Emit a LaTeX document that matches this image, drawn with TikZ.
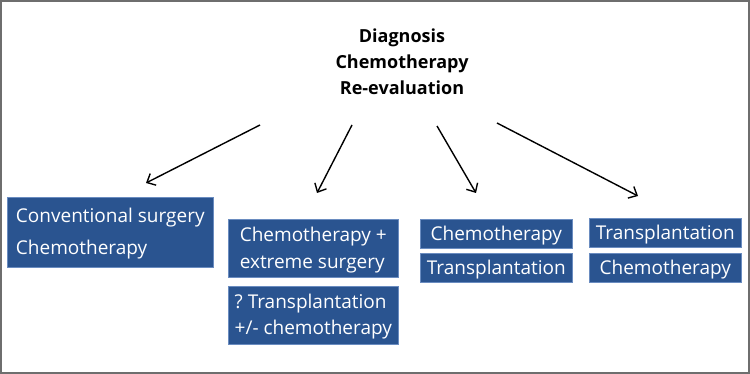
\documentclass[tikz,border=0pt]{standalone}
\usepackage{fontspec}
\setmainfont{Open Sans}
\usepackage{tikz}
\usetikzlibrary{arrows.meta,positioning}
\definecolor{boxc}{HTML}{2A5490}
\definecolor{boxedge}{HTML}{6A8CC0}
\definecolor{framec}{HTML}{6E6E6E}
\frenchspacing

\begin{document}
\begin{tikzpicture}[x=1pt, y=-1pt,
  box/.style={fill=boxc, draw=boxedge, line width=0.6pt, anchor=north west,
              text=white, align=left, inner sep=0pt, text depth=2pt,
              font=\fontsize{19}{26}\selectfont},
  wide/.style={minimum width=170pt, minimum height=58pt},
  slim/.style={minimum width=152pt, minimum height=29pt},
  arr/.style={-{Straight Barb[length=7pt, width=13pt]}, line width=1.4pt},
  title/.style={font=\fontsize{18}{26}\selectfont\bfseries, align=center}]
\useasboundingbox (0,0) rectangle (750,374);
\draw[framec, line width=2pt] (1,1) rectangle (749,373);
\node[title] (diag) at (402,62) {Diagnosis\\Chemotherapy\\Re-evaluation};
% treatment options
\node[box, minimum width=206pt, minimum height=70pt] (conv) at (7,197)
     {Conventional surgery\\[6pt]Chemotherapy};
\node[box, wide] (extr) at (228,219) {Chemotherapy +\\[1pt]extreme surgery};
\node[box, wide] (qtx) at (228,286) {? Transplantation\\+/- chemotherapy};
\node[box, slim] (chemoa) at (420,219) {Chemotherapy};
\node[box, slim] (txa) at (420,253) {Transplantation};
\node[box, slim] (txb) at (589,218) {Transplantation};
\node[box, slim] (chemob) at (589,253) {Chemotherapy};
% arrow ends
\coordinate (s1) at (260,125);
\coordinate (e1) at (146,183);
\coordinate (s2) at (352,125);
\coordinate (e2) at (317,193);
\coordinate (s3) at (437,126);
\coordinate (e3) at (476,193);
\coordinate (s4) at (497,123);
\coordinate (e4) at (638,196);
\draw[arr] (s1) -- (e1);
\draw[arr] (s2) -- (e2);
\draw[arr] (s3) -- (e3);
\draw[arr] (s4) -- (e4);
\end{tikzpicture}
\end{document}
